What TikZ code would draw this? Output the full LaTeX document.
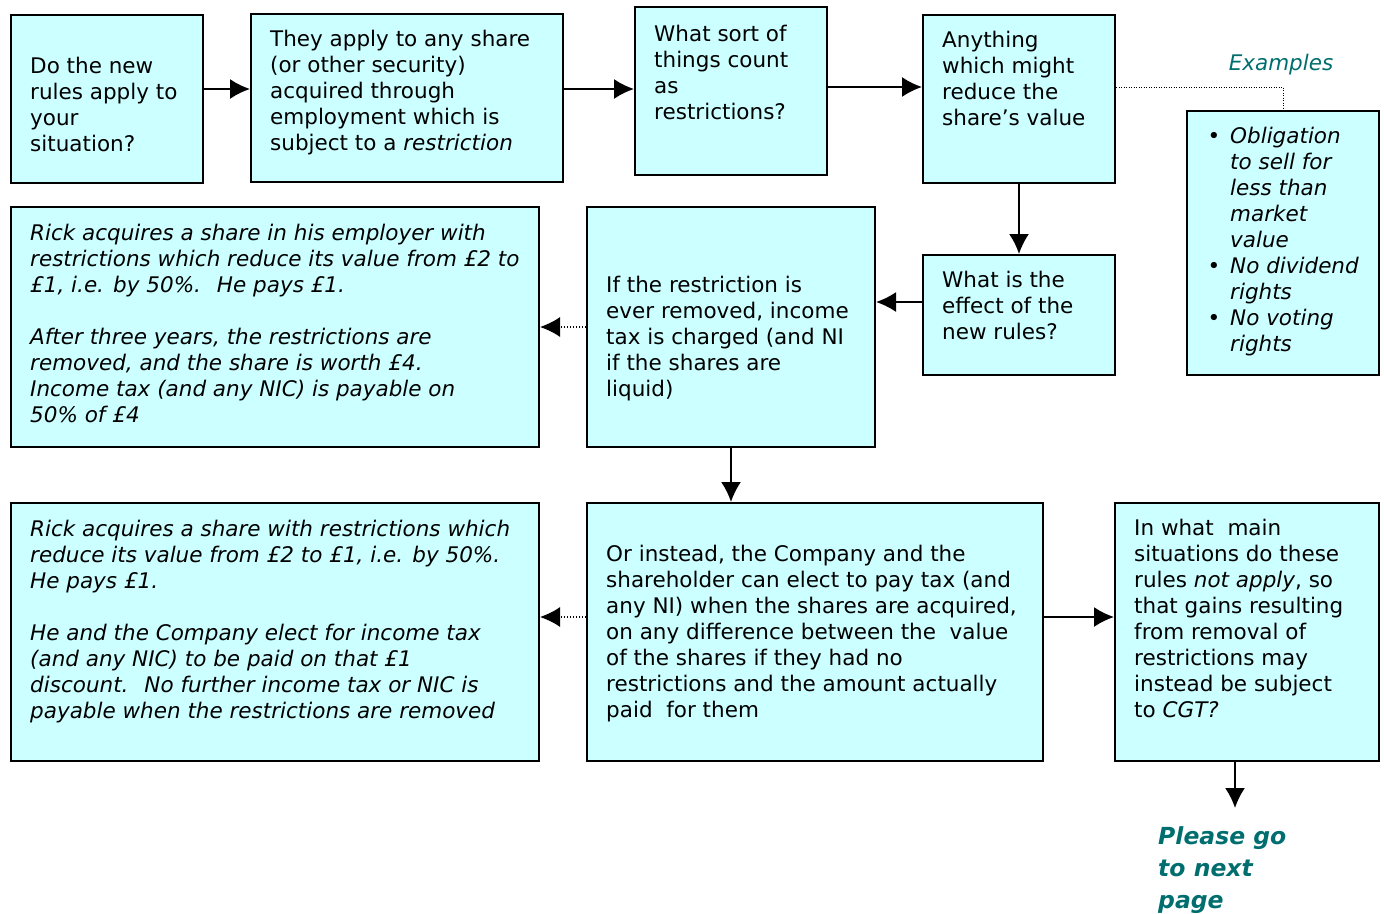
\documentclass[tikz,border=0pt]{standalone}
\usepackage{fontspec}
\setmainfont{DejaVu Sans}
\usetikzlibrary{arrows.meta,positioning}
\definecolor{boxfill}{HTML}{CCFFFF}
\definecolor{noteteal}{RGB}{0,110,110}

\begin{document}
\begin{tikzpicture}[x=1pt,y=-1pt,
    box/.style={draw, line width=2pt, fill=boxfill, inner sep=0pt},
    txt/.style={anchor=north west, align=left, inner sep=0pt,
        font=\fontsize{21.5}{26}\selectfont, execute at begin node=\strut},
    flow/.style={-{Latex[length=20pt,width=20pt]}, line width=2pt},
    hint/.style={-{Latex[length=20pt,width=20pt]}, line width=1.5pt, dash pattern=on 1.5pt off 1.5pt}]
    \useasboundingbox (0,0) rectangle (1384,913);

    % Top row
    \node[box, minimum width=192pt, minimum height=168pt] (apply) at (107,99) {};
    \node[txt, below right=43pt and 20pt of apply.north west] (apply-t)
        {Do the new\\ rules apply to\\ your\\ situation?};
    \node[box, minimum width=312pt, minimum height=168pt] (security) at (407,98) {};
    \node[txt, below right=17pt and 20pt of security.north west] (security-t)
        {They apply to any share\\ (or other security)\\ acquired through\\ employment which is\\ subject to a \textit{restriction}};
    \node[box, minimum width=192pt, minimum height=168pt] (sort) at (731,91) {};
    \node[txt, below right=19pt and 20pt of sort.north west] (sort-t)
        {What sort of\\ things count\\ as\\ restrictions?};
    \node[box, minimum width=192pt, minimum height=168pt] (anything) at (1019,99) {};
    \node[txt, below right=17pt and 20pt of anything.north west] (anything-t)
        {Anything\\ which might\\ reduce the\\ share’s value};

    % Examples
    \node[box, minimum width=192pt, minimum height=264pt] (examples) at (1283,243) {};
    \node[txt, font=\fontsize{21.5}{26}\selectfont\itshape, below right=17pt and 44pt of examples.north west] (examples-t)
        {\llap{\upshape•\hspace{10pt}}Obligation\\ to sell for\\ less than\\ market\\ value\\
         \llap{\upshape•\hspace{10pt}}No dividend\\ rights\\
         \llap{\upshape•\hspace{10pt}}No voting\\ rights};
    \node[anchor=base, inner sep=0pt, font=\fontsize{21.5}{26}\selectfont\itshape, text=noteteal] (examples-l) at (1281,70) {Examples};

    % Middle row
    \node[box, minimum width=192pt, minimum height=120pt] (effect) at (1019,315) {};
    \node[txt, below right=17pt and 20pt of effect.north west] (effect-t)
        {What is the\\ effect of the\\ new rules?};
    \node[box, minimum width=288pt, minimum height=240pt] (removed) at (731,327) {};
    \node[txt, below right=70pt and 20pt of removed.north west] (removed-t)
        {If the restriction is\\ ever removed, income\\ tax is charged (and NI\\ if the shares are\\ liquid)};
    \node[box, minimum width=528pt, minimum height=240pt] (rick1) at (275,327) {};
    \node[txt, font=\fontsize{21.5}{26}\selectfont\itshape, below right=18pt and 20pt of rick1.north west] (rick1-t)
        {Rick acquires a share in his employer with\\ restrictions which reduce its value from £2 to\\ £1, i.e. by 50\%.~ He pays £1.\\ \mbox{}\\
         After three years, the restrictions are\\ removed, and the share is worth £4.\\ Income tax (and any NIC) is payable on\\ 50\% of £4};

    % Bottom row
    \node[box, minimum width=456pt, minimum height=258pt] (elect) at (815,632) {};
    \node[txt, below right=43pt and 20pt of elect.north west] (elect-t)
        {Or instead, the Company and the\\ shareholder can elect to pay tax (and\\ any NI) when the shares are acquired,\\ on any difference between the~ value\\ of the shares if they had no\\ restrictions and the amount actually\\ paid~ for them};
    \node[box, minimum width=528pt, minimum height=258pt] (rick2) at (275,632) {};
    \node[txt, font=\fontsize{21.5}{26}\selectfont\itshape, below right=18pt and 20pt of rick2.north west] (rick2-t)
        {Rick acquires a share with restrictions which\\ reduce its value from £2 to £1, i.e. by 50\%.\\ He pays £1.\\ \mbox{}\\
         He and the Company elect for income tax\\ (and any NIC) to be paid on that £1\\ discount.~ No further income tax or NIC is\\ payable when the restrictions are removed};
    \node[box, minimum width=264pt, minimum height=258pt] (cgt) at (1247,632) {};
    \node[txt, below right=17pt and 20pt of cgt.north west] (cgt-t)
        {In what~ main\\ situations do these\\ rules \textit{not apply}, so\\ that gains resulting\\ from removal of\\ restrictions may\\ instead be subject\\ to \textit{CGT?}};
    \node[txt, font=\fontsize{23.5}{32}\selectfont\bfseries\itshape, text=noteteal] (next) at (1158,826)
        {Please go\\ to next\\ page};

    % Connectors
    \draw[flow] ([yshift=10pt]apply.east) -- ([yshift=10pt]apply.east -| security.west);
    \draw[flow] ([yshift=9pt]security.east) -- ([yshift=9pt]security.east -| sort.west);
    \draw[flow] ([yshift=4pt]sort.east) -- ([yshift=4pt]sort.east -| anything.west);
    \draw[line width=1pt, dash pattern=on 1pt off 1.5pt] ([yshift=12pt]anything.east) -| (examples.north);
    \draw[flow] (anything) -- (effect);
    \draw[flow] ([yshift=13pt]effect.west) -- ([yshift=13pt]effect.west -| removed.east);
    \draw[hint] (removed.west) -- (removed.west -| rick1.east);
    \draw[flow] (removed.south) -- (removed.south |- elect.north);
    \draw[hint] ([yshift=15pt]elect.west) -- ([yshift=15pt]elect.west -| rick2.east);
    \draw[flow] ([yshift=15pt]elect.east) -- ([yshift=15pt]elect.east -| cgt.west);
    \draw[flow, shorten >=18pt] ([xshift=-12pt]cgt.south) -- ([xshift=-12pt]cgt.south |- next.north);
\end{tikzpicture}
\end{document}
